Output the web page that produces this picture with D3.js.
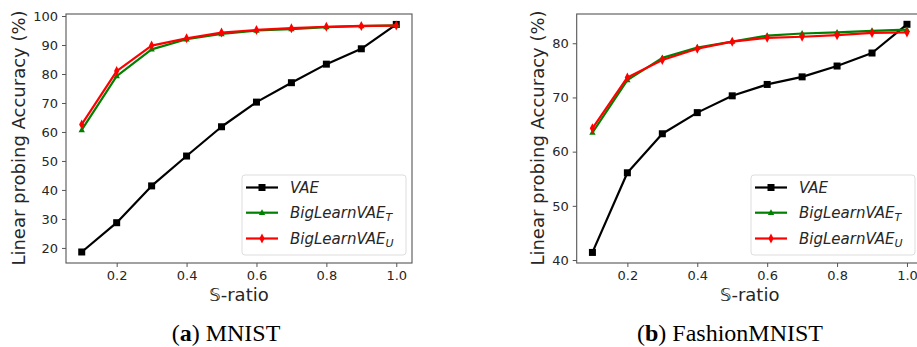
<!DOCTYPE html>
<html><head><meta charset="utf-8">
<script src="https://cdn.jsdelivr.net/npm/d3@7"></script>
<style>body{margin:0;background:#fff;} svg{display:block;}</style>
</head><body>
<svg id="c" width="917" height="347"></svg>
<script>
const ratios = [0.1,0.2,0.3,0.4,0.5,0.6,0.7,0.8,0.9,1.0];
const xTicks = [0.2,0.4,0.6,0.8,1.0];
const mnistVAE = [18.6,28.7,41.4,51.7,61.8,70.3,77.0,83.4,88.7,97.1];
const mnistT   = [60.7,79.3,88.5,92.0,93.8,95.0,95.5,96.2,96.5,96.8];
const mnistU   = [62.6,81.0,89.8,92.3,94.3,95.2,95.8,96.3,96.6,96.7];
const mnistYTicks = [20,30,40,50,60,70,80,90,100];
const fashionVAE = [41.4,56.1,63.3,67.2,70.3,72.4,73.8,75.8,78.2,83.5];
const fashionT   = [63.5,73.2,77.3,79.2,80.3,81.4,81.8,82.0,82.3,82.5];
const fashionU   = [64.3,73.7,76.9,79.0,80.3,81.0,81.2,81.5,81.9,82.0];
const fashionYTicks = [40,50,60,70,80];
const seriesNames = ["VAE","BigLearnVAE","BigLearnVAE"];
const seriesSubs = ["","T","U"];
const seriesColors = ["#000000","#008000","#ff0000"];
const seriesMarkers = ["square","triangle","thindiamond"];
const captions = [["a"," MNIST"],["b"," FashionMNIST"]];

const svg = d3.select("#c");
const txt = "#262626", spine = "#555";

function marker(g, type, x, y, color){
  if(type==="square"){
    g.append("rect").attr("x",x-3.5).attr("y",y-3.5).attr("width",7).attr("height",7).attr("fill",color);
  } else if(type==="triangle"){
    g.append("path").attr("d",`M${x},${y-3.5}L${x+3.2},${y+2.2}L${x-3.2},${y+2.2}Z`).attr("fill",color);
  } else {
    g.append("path").attr("d",`M${x},${y-5}L${x+2.6},${y}L${x},${y+5}L${x-2.6},${y}Z`).attr("fill",color);
  }
}

function panel(opt){
  const x = d3.scaleLinear().domain([0.055,1.045]).range([opt.left, opt.left+346]);
  const y = d3.scaleLinear().domain(opt.yDomain).range([263,14]);
  const g = svg.append("g");
  const ax = g.append("g").attr("transform","translate(0,263)")
    .call(d3.axisBottom(x).tickValues(xTicks).tickFormat(d3.format(".1f")).tickSize(4).tickPadding(4));
  const ay = g.append("g").attr("transform",`translate(${opt.left},0)`)
    .call(d3.axisLeft(y).tickValues(opt.yTicks).tickSize(4).tickPadding(4));
  [ax,ay].forEach(a=>{
    a.select(".domain").remove();
    a.selectAll(".tick line").attr("stroke",spine).attr("stroke-width",1);
    a.selectAll(".tick text").attr("fill",txt).style("font-family","DejaVu Sans").style("font-size","13px");
  });
  g.append("rect").attr("x",opt.left).attr("y",14).attr("width",346).attr("height",249)
    .attr("fill","none").attr("stroke",spine).attr("stroke-width",1.1);
  const line = d3.line().x((d,i)=>x(ratios[i])).y(d=>y(d));
  opt.series.forEach((s,k)=>{
    g.append("path").datum(s).attr("d",line).attr("fill","none")
      .attr("stroke",seriesColors[k]).attr("stroke-width",2.2).attr("stroke-linejoin","round");
    s.forEach((v,i)=>marker(g,seriesMarkers[k],x(ratios[i]),y(v),seriesColors[k]));
  });
  g.append("text").attr("transform",`translate(${opt.ylabX},138) rotate(-90)`)
    .attr("text-anchor","middle").attr("dominant-baseline","central").attr("fill",txt)
    .style("font-family","DejaVu Sans").style("font-size","18px").text("Linear probing Accuracy (%)");
  g.append("text").attr("x",opt.left+173).attr("y",301).attr("text-anchor","middle").attr("fill",txt)
    .style("font-family","DejaVu Sans").style("font-size","18px").text("𝕊-ratio");
  const lg = g.append("g");
  lg.append("rect").attr("x",opt.legX).attr("y",175).attr("width",164).attr("height",80).attr("rx",3)
    .attr("fill","#fff").attr("fill-opacity",0.85).attr("stroke","#ddd");
  [187.5,212.7,238.5].forEach((ly,k)=>{
    lg.append("line").attr("x1",opt.legX+4).attr("x2",opt.legX+36).attr("y1",ly).attr("y2",ly)
      .attr("stroke",seriesColors[k]).attr("stroke-width",2.2);
    marker(lg,seriesMarkers[k],opt.legX+20,ly,seriesColors[k]);
    const t = lg.append("text").attr("x",opt.legX+48).attr("y",ly).attr("dominant-baseline","central")
      .attr("fill",txt).style("font-family","DejaVu Sans").style("font-size","15px").style("font-style","italic");
    t.append("tspan").text(seriesNames[k]);
    if(seriesSubs[k]) t.append("tspan").attr("dy",4).style("font-size","11px").text(seriesSubs[k]);
  });
  const c = g.append("text").attr("x",opt.capX).attr("y",341).attr("text-anchor","middle").attr("fill","#000")
    .style("font-family","Liberation Serif").style("font-size","24px");
  c.append("tspan").text("(");
  c.append("tspan").style("font-weight","bold").text(opt.caption[0]);
  c.append("tspan").text(")");
  c.append("tspan").text(opt.caption[1]);
}

panel({left:66, yDomain:[14.8,100.7], yTicks:mnistYTicks, series:[mnistVAE,mnistT,mnistU],
  ylabX:18, legX:242, capX:226, caption:captions[0]});
panel({left:576.7, yDomain:[39.45,85.4], yTicks:fashionYTicks, series:[fashionVAE,fashionT,fashionU],
  ylabX:537, legX:751, capX:730, caption:captions[1]});
</script>
</body></html>
